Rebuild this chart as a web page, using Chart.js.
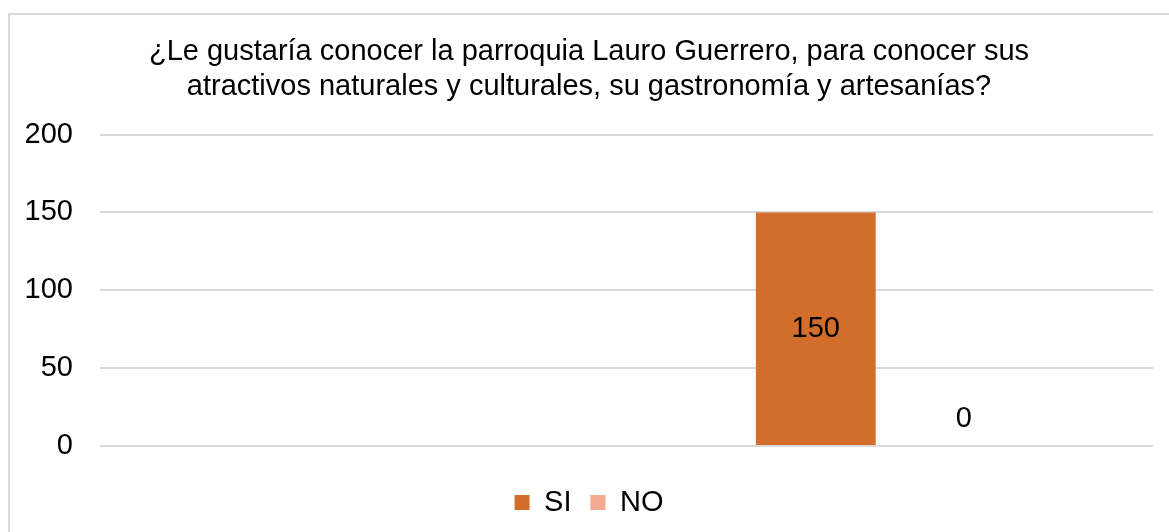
<!DOCTYPE html>
<html>
<head>
<meta charset="utf-8">
<script src="https://cdn.jsdelivr.net/npm/chart.js@4.4.0/dist/chart.umd.min.js"></script>
<style>
    html, body { margin: 0; padding: 0; background: #fff; }
    #wrap { position: relative; width: 1169px; height: 532px; overflow: hidden; }
    #frame { position: absolute; left: 8px; top: 13px; width: 1300px; height: 700px;
             border-left: 2px solid #d9d9d9; border-top: 2px solid #d9d9d9; box-sizing: border-box; }
    #chart { position: absolute; left: 0; top: 0; }
</style>
</head>
<body>
<div id="wrap">
    <div id="frame"></div>
    <canvas id="chart" width="1169" height="532"></canvas>
</div>
<script>
// ========================================
// データ
// ========================================
const titleLines = [
    '¿Le gustaría conocer la parroquia Lauro Guerrero, para conocer sus',
    'atractivos naturales y culturales, su gastronomía y artesanías?'
];
const categories = ['', ''];
const siValues = [null, 150];
const noValues = [null, 0];
const yTicks = [0, 50, 100, 150, 200];

const FONT = "'Liberation Sans', Arial, sans-serif";
const FONT_SIZE = 29;

// ========================================
// データラベル（簡易プラグイン）
// ========================================
const valueLabels = {
    id: 'valueLabels',
    afterDatasetsDraw(chart) {
        const ctx = chart.ctx;
        ctx.save();
        ctx.font = FONT_SIZE + 'px ' + FONT;
        ctx.fillStyle = '#000';
        ctx.textAlign = 'center';
        ctx.textBaseline = 'middle';
        chart.data.datasets.forEach((ds, i) => {
            chart.getDatasetMeta(i).data.forEach((bar, j) => {
                const v = ds.data[j];
                if (v === null || v === undefined) return;
                let y = (bar.y + bar.base) / 2;
                // 0 のラベルは軸の少し上に置く
                if (v === 0) y = bar.base - 27;
                ctx.fillText(String(v), bar.x, y);
            });
        });
        ctx.restore();
    }
};

// ========================================
// チャート
// ========================================
new Chart(document.getElementById('chart').getContext('2d'), {
    type: 'bar',
    data: {
        labels: categories,
        datasets: [
            { label: 'SI', data: siValues, backgroundColor: '#D36D2B',
              categoryPercentage: 0.562, barPercentage: 0.81 },
            { label: 'NO', data: noValues, backgroundColor: '#F4AA8E',
              categoryPercentage: 0.562, barPercentage: 0.81 }
        ]
    },
    options: {
        responsive: false,
        animation: false,
        layout: { padding: { top: 22, left: 25, right: 16, bottom: 5 } },
        plugins: {
            title: {
                display: true,
                text: titleLines,
                color: '#000',
                font: { family: FONT, size: FONT_SIZE, weight: 'normal', lineHeight: 1.2 },
                padding: { top: 13, bottom: 30 }
            },
            legend: {
                position: 'bottom',
                labels: {
                    color: '#000',
                    font: { family: FONT, size: FONT_SIZE },
                    boxWidth: 15,
                    boxHeight: 15,
                    padding: 19
                }
            },
            tooltip: { enabled: false }
        },
        scales: {
            x: {
                ticks: { display: false },
                grid: { display: false },
                border: { display: false },
                afterFit: (axis) => { axis.height = 23; }
            },
            y: {
                min: yTicks[0],
                max: yTicks[yTicks.length - 1],
                afterBuildTicks: (axis) => { axis.ticks = yTicks.map(v => ({ value: v })); },
                afterFit: (axis) => { axis.width = 75; },
                ticks: {
                    color: '#000',
                    font: { family: FONT, size: FONT_SIZE },
                    padding: 27
                },
                grid: { color: '#d9d9d9', lineWidth: 2, drawTicks: false },
                border: { display: false }
            }
        }
    },
    plugins: [valueLabels]
});
</script>
</body>
</html>
